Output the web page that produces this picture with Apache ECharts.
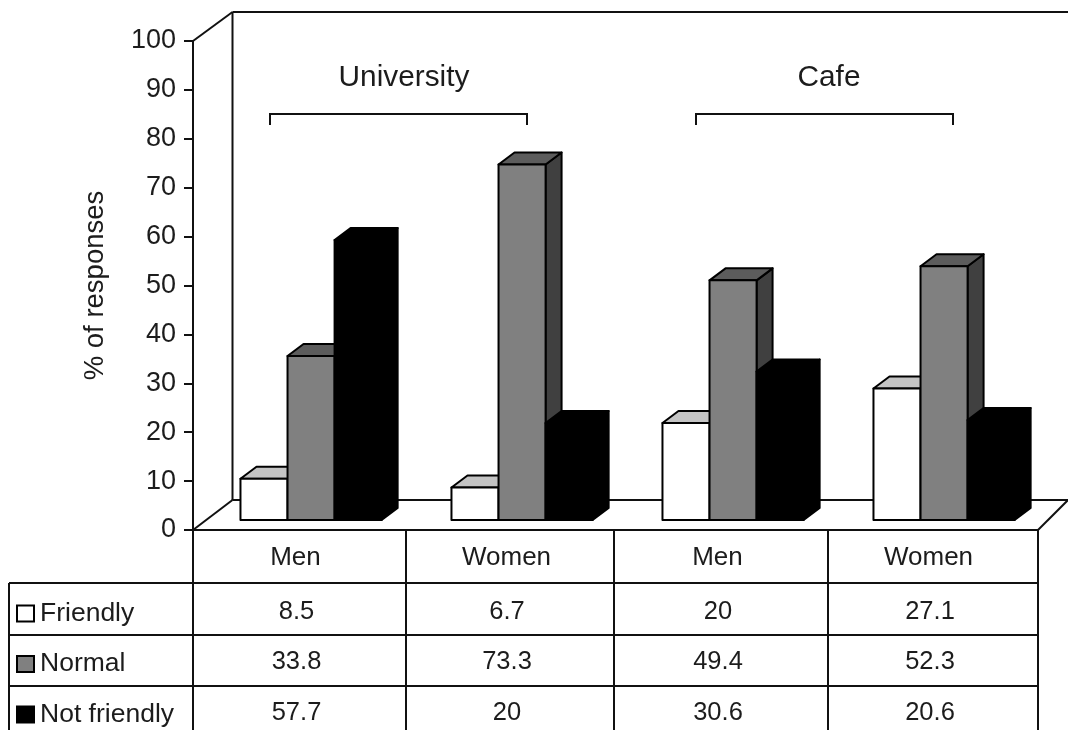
<!DOCTYPE html>
<html>
<head>
<meta charset="utf-8">
<style>html,body{margin:0;padding:0;background:#fff}#c{width:1068px;height:730px}</style>
<script src="https://cdn.jsdelivr.net/npm/echarts@6/dist/echarts.min.js"></script>
</head>
<body>
<div id="c"></div>
<script>
const categories = ['Men', 'Women', 'Men', 'Women'];
const friendly = [8.5, 6.7, 20, 27.1];
const normal = [33.8, 73.3, 49.4, 52.3];
const notFriendly = [57.7, 20, 30.6, 20.6];
const seriesNames = ['Friendly', 'Normal', 'Not friendly'];
const groupNames = ['University', 'Cafe'];
const yAxisTitle = '% of responses';

const FONT = '"Liberation Sans", Arial, sans-serif';
const INK = '#1c1c1c';
const LINE = '#111';
const FS = 25.5;

// shade sets: front, top, side
const shades = [
  ['#ffffff', '#c4c4c4', '#8a8a8a'],
  ['#808080', '#5c5c5c', '#404040'],
  ['#000000', '#000000', '#000000']
];

function barRenderer(seriesIndex) {
  return function (params, api) {
    const cat = api.value(0), val = api.value(1);
    const top = api.coord([cat, val]);
    const base = api.coord([cat, 0]);
    const cell = api.size([1, 0])[0];
    const w = cell * 0.223;
    const x0 = top[0] - cell / 2 + cell * 0.225 + seriesIndex * w;
    const x1 = x0 + w;
    const yb = base[1] - 10;
    const yt = yb - (base[1] - top[1]) * 0.992;
    const dx = 16, dy = -12;
    const s = shades[seriesIndex];
    const stroke = { stroke: '#000', lineWidth: 2, lineJoin: 'round' };
    const poly = function (pts, fill) {
      return { type: 'polygon', shape: { points: pts }, style: Object.assign({ fill: fill }, stroke) };
    };
    return {
      type: 'group',
      children: [
        poly([[x1, yb], [x1 + dx, yb + dy], [x1 + dx, yt + dy], [x1, yt]], s[2]),
        poly([[x0, yt], [x0 + dx, yt + dy], [x1 + dx, yt + dy], [x1, yt]], s[1]),
        poly([[x0, yb], [x1, yb], [x1, yt], [x0, yt]], s[0])
      ]
    };
  };
}

const allValues = [friendly, normal, notFriendly];

function line(x1, y1, x2, y2, w) {
  return { type: 'line', silent: true, z: 1, shape: { x1, y1, x2, y2 },
           style: { stroke: LINE, lineWidth: w || 2 } };
}
function text(t, x, y, size, align) {
  return { type: 'text', silent: true, z: 5,
           style: { text: t, x, y, fill: INK, align: align || 'center', verticalAlign: 'middle',
                    font: (size || FS) + 'px ' + FONT } };
}

const elements = [];
// walls and floor
elements.push(line(193, 41, 232.5, 12), line(232.5, 12, 1068, 12), line(232.5, 12, 232.5, 500));
elements.push(line(193, 530, 232.5, 500), line(232.5, 500, 1068, 500), line(1038, 530, 1068, 500));
// group brackets
[[270, 527, 404], [696, 953, 829]].forEach(function (b, i) {
  elements.push(
    { type: 'polyline', silent: true, z: 1,
      shape: { points: [[b[0], 125], [b[0], 114], [b[1], 114], [b[1], 125]] },
      style: { stroke: LINE, lineWidth: 2, fill: null } },
    text(groupNames[i], b[2], 78, 29.8)
  );
});
// data table
const cols = [193, 406, 614, 828, 1038];
const rows = [583, 635, 686];
cols.forEach(function (x) { elements.push(line(x, 530, x, 730)); });
elements.push(line(9, 583, 9, 730));
elements.push(line(193, 530, 1038, 530));
rows.forEach(function (y) { elements.push(line(9, y, 1038, y)); });
const rowY = [612, 662, 713];
allValues.forEach(function (vals, r) {
  vals.forEach(function (v, c) {
    elements.push(text(String(v), (cols[c] + cols[c + 1]) / 2 - 3, rowY[r]));
  });
});

const option = {
  backgroundColor: '#ffffff',
  animation: false,
  textStyle: { fontFamily: FONT },
  grid: { left: 193, right: 31, top: 41, bottom: 200, containLabel: false },
  legend: {
    orient: 'vertical', left: 16, top: 600, height: 130, itemGap: 23.5,
    itemWidth: 17, itemHeight: 16, itemStyle: { borderColor: '#000', borderWidth: 2 },
    icon: 'rect', selectedMode: false, padding: 0,
    data: seriesNames,
    textStyle: { fontSize: 26.5, fontFamily: FONT, color: INK, padding: [0, 0, 0, 1] }
  },
  xAxis: {
    type: 'category', data: categories,
    axisLine: { lineStyle: { color: LINE, width: 2 } },
    axisTick: { show: false },
    axisLabel: { fontSize: 26, fontFamily: FONT, color: INK, margin: 15, padding: [0, 6, 0, 0], interval: 0 }
  },
  yAxis: {
    type: 'value', min: 0, max: 100, interval: 10,
    name: yAxisTitle, nameLocation: 'middle', nameGap: 84, nameRotate: 90,
    nameTextStyle: { fontSize: 27.5, fontFamily: FONT, color: INK },
    splitLine: { show: false },
    axisLine: { show: true, lineStyle: { color: LINE, width: 2 } },
    axisTick: { show: true, length: 9, lineStyle: { color: LINE, width: 2 } },
    axisLabel: { fontSize: 27, fontFamily: FONT, color: INK, margin: 17, padding: [3, 0, 0, 0] }
  },
  series: seriesNames.map(function (name, i) {
    return {
      name: name, type: 'custom', z: 3 + i,
      renderItem: barRenderer(i),
      encode: { x: 0, y: 1 },
      itemStyle: { color: shades[i][0] },
      data: allValues[i].map(function (v, c) { return [c, v]; })
    };
  }),
  graphic: { elements: elements }
};

const chart = echarts.init(document.getElementById('c'), null, { renderer: 'canvas' });
chart.setOption(option);
</script>
</body>
</html>
